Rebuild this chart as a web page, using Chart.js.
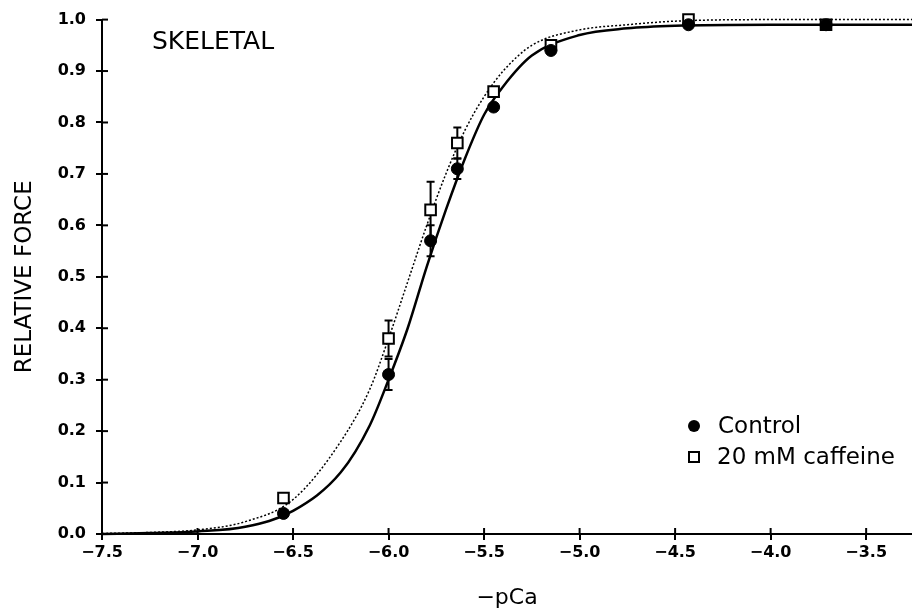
<!DOCTYPE html>
<html><head><meta charset="utf-8">
<script src="https://cdn.jsdelivr.net/npm/chart.js@4.4.1/dist/chart.umd.min.js"></script>
<style>html,body{margin:0;padding:0;background:#fff}#wrap{width:912px;height:616px;position:relative}</style>
</head><body><div id="wrap"><canvas id="c" width="912" height="616"></canvas></div>
<script>
// ---- data ----
const xTicks = [-7.5, -7.0, -6.5, -6.0, -5.5, -5.0, -4.5, -4.0, -3.5];
const yTicks = [0.0, 0.1, 0.2, 0.3, 0.4, 0.5, 0.6, 0.7, 0.8, 0.9, 1.0];
const pCaPoints     = [-6.55, -6.0, -5.78, -5.64, -5.45, -5.15, -4.43, -3.71];
const controlForce  = [0.04, 0.31, 0.57, 0.71, 0.83, 0.94, 0.99, 0.99];
const caffeineForce = [0.07, 0.38, 0.63, 0.76, 0.86, 0.95, 1.00, 0.99];
const controlErr    = [0, 0.03, 0.03, 0.02, 0, 0, 0, 0];
const caffeineErr   = [0, 0.035, 0.055, 0.03, 0, 0, 0, 0];
const curveX        = [-7.5, -7.25, -7.0, -6.75, -6.5, -6.25, -6.1, -6.0, -5.9, -5.8, -5.7, -5.6, -5.5, -5.4, -5.25, -5.0, -4.75, -4.5, -4.0, -3.26];
const controlCurve  = [0.000, 0.002, 0.005, 0.014, 0.045, 0.12, 0.21, 0.30, 0.40, 0.52, 0.63, 0.73, 0.815, 0.87, 0.93, 0.97, 0.983, 0.988, 0.99, 0.99];
const caffeineCurve = [0.001, 0.003, 0.008, 0.024, 0.067, 0.18, 0.28, 0.38, 0.49, 0.60, 0.70, 0.785, 0.85, 0.90, 0.95, 0.98, 0.99, 0.997, 1.0, 1.0];
const legendLabels  = ['Control', '20 mM caffeine'];
const panelLabel    = 'SKELETAL';

const toXY = (xs, ys) => xs.map((x, i) => ({x: x, y: ys[i]}));
const fmtX = v => (v < 0 ? '\u2212' : '') + Math.abs(v).toFixed(1);

const crossTicks = {
  id: 'crossTicks',
  afterDraw(chart) {
    const {ctx, scales: {x, y}} = chart;
    ctx.save();
    ctx.strokeStyle = '#000'; ctx.lineWidth = 2;
    xTicks.forEach(v => { const p = x.getPixelForValue(v); ctx.beginPath(); ctx.moveTo(p, y.bottom); ctx.lineTo(p, y.bottom - 6); ctx.stroke(); });
    yTicks.forEach(v => { const p = y.getPixelForValue(v); ctx.beginPath(); ctx.moveTo(x.left, p); ctx.lineTo(x.left + 6, p); ctx.stroke(); });
    ctx.restore();
  }
};

const errorBars = {
  id: 'errorBars',
  beforeDatasetsDraw(chart) {
    const {ctx, scales: {x, y}} = chart;
    ctx.save();
    ctx.strokeStyle = '#000'; ctx.lineWidth = 2;
    const draw = (vals, errs) => vals.forEach((v, i) => {
      const e = errs[i]; if (!e) return;
      const px = x.getPixelForValue(pCaPoints[i]);
      const lo = y.getPixelForValue(v - e), hi = y.getPixelForValue(v + e);
      ctx.beginPath();
      ctx.moveTo(px, lo); ctx.lineTo(px, hi);
      ctx.moveTo(px - 4, lo); ctx.lineTo(px + 4, lo);
      ctx.moveTo(px - 4, hi); ctx.lineTo(px + 4, hi);
      ctx.stroke();
    });
    draw(controlForce, controlErr);
    draw(caffeineForce, caffeineErr);
    ctx.restore();
  }
};

const annotations = {
  id: 'annotations',
  afterDraw(chart) {
    const ctx = chart.ctx;
    ctx.save();
    ctx.fillStyle = '#000'; ctx.strokeStyle = '#000';
    ctx.textBaseline = 'middle'; ctx.textAlign = 'left';
    ctx.font = '25px "DejaVu Sans"';
    ctx.fillText(panelLabel, 152, 42);
    ctx.font = '23px "DejaVu Sans"';
    ctx.beginPath(); ctx.arc(694, 426, 6, 0, Math.PI * 2); ctx.fill();
    ctx.fillText(legendLabels[0], 718, 427);
    ctx.lineWidth = 2;
    ctx.strokeRect(689, 452, 10, 10);
    ctx.fillText(legendLabels[1], 717, 458);
    ctx.restore();
  }
};

new Chart(document.getElementById('c'), {
  type: 'scatter',
  data: {
    datasets: [
      { label: 'Control', data: toXY(pCaPoints, controlForce), pointStyle: 'circle', pointRadius: 6,
        backgroundColor: '#000', borderColor: '#000', borderWidth: 1, showLine: false, clip: false },
      { label: '20 mM caffeine', data: toXY(pCaPoints, caffeineForce), pointStyle: 'rect', pointRadius: 7.5,
        backgroundColor: '#fff', borderColor: '#000', borderWidth: 2, showLine: false, clip: false },
      { label: 'Control fit', type: 'line', data: toXY(curveX, controlCurve), borderColor: '#000', borderWidth: 2.5,
        pointRadius: 0, cubicInterpolationMode: 'monotone', fill: false, clip: false },
      { label: 'Caffeine fit', type: 'line', data: toXY(curveX, caffeineCurve), borderColor: '#000', borderWidth: 1.5,
        borderDash: [2, 2], pointRadius: 0, cubicInterpolationMode: 'monotone', fill: false, clip: false }
    ]
  },
  options: {
    responsive: false, animation: false, devicePixelRatio: 1,
    layout: { autoPadding: false, padding: { top: 16, right: 0, left: 0, bottom: 0 } },
    plugins: { legend: { display: false }, tooltip: { enabled: false } },
    scales: {
      x: {
        type: 'linear', min: -7.5, max: -3.26,
        afterBuildTicks: s => { s.ticks = xTicks.map(v => ({ value: v })); },
        afterFit: s => { s.height = 82; s.paddingLeft = 0; s.paddingRight = 0; },
        grid: { drawOnChartArea: false, drawTicks: true, tickLength: 6, color: '#000', lineWidth: 2 },
        border: { display: true, color: '#000', width: 2 },
        ticks: { color: '#000', font: { family: 'DejaVu Sans', size: 16, weight: 'bold' }, padding: 3,
                 maxRotation: 0, autoSkip: false, callback: v => fmtX(v) },
        title: { display: true, text: '\u2212pCa', color: '#000', font: { family: 'DejaVu Sans', size: 22 },
                 padding: { top: 0, bottom: 5 } }
      },
      y: {
        type: 'linear', min: 0, max: 1,
        afterBuildTicks: s => { s.ticks = yTicks.map(v => ({ value: v })); },
        afterFit: s => { s.width = 102; },
        grid: { drawOnChartArea: false, drawTicks: true, tickLength: 6, color: '#000', lineWidth: 2 },
        border: { display: true, color: '#000', width: 2 },
        ticks: { color: '#000', font: { family: 'DejaVu Sans', size: 16, weight: 'bold' }, padding: 10,
                 autoSkip: false, callback: v => Number(v).toFixed(1) },
        title: { display: true, text: 'RELATIVE FORCE', color: '#000', font: { family: 'DejaVu Sans', size: 23 },
                 padding: { top: 11, bottom: 0 } }
      }
    }
  },
  plugins: [crossTicks, errorBars, annotations]
});
</script>
</body></html>
